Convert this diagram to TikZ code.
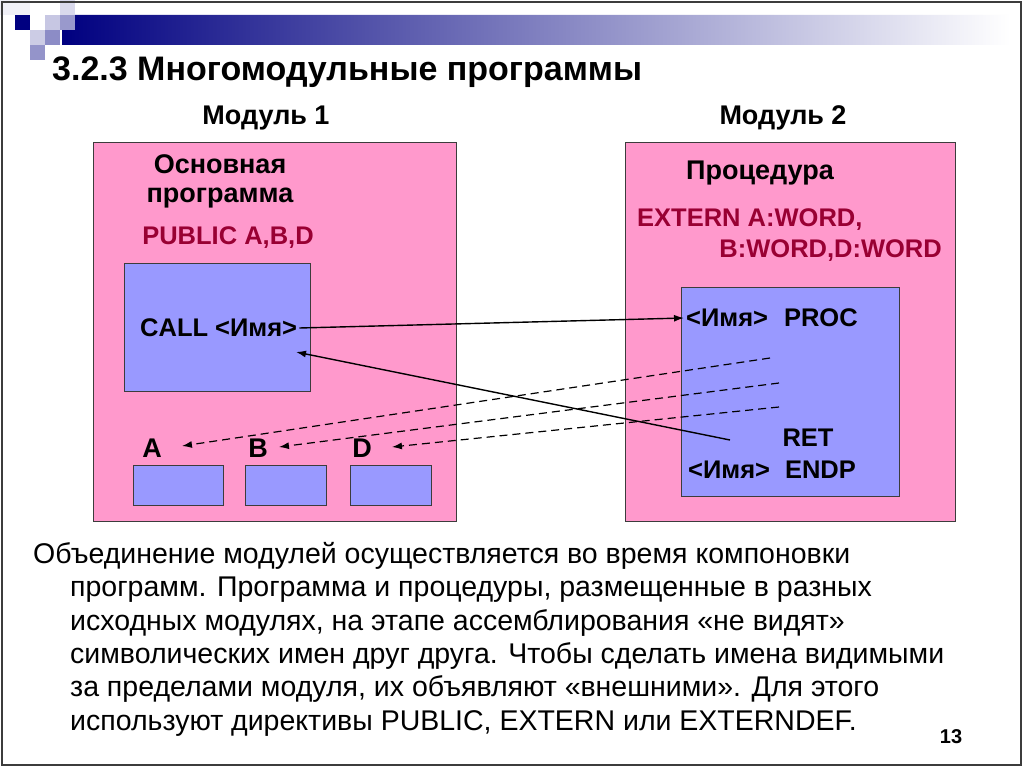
\documentclass[tikz,border=0pt]{standalone}
\usepackage{fontspec}
\setmainfont{Liberation Sans}
\usetikzlibrary{arrows.meta, positioning}
\definecolor{slidenavy}{HTML}{000080}
\definecolor{modulepink}{HTML}{FF99CC}
\definecolor{blockblue}{HTML}{9999FF}
\definecolor{keyred}{HTML}{990033}
\definecolor{framegray}{HTML}{3C3C3C}
\tikzset{
  modulebox/.style={fill=modulepink, draw=framegray, line width=0.9pt},
  codebox/.style={fill=blockblue, draw=framegray, line width=0.9pt},
  labeltext/.style={font=\fontsize{27}{29}\selectfont\bfseries, inner sep=0pt, align=center},
  codetext/.style={labeltext, font=\fontsize{25.5}{25.5}\selectfont\bfseries},
  keytext/.style={codetext, keyred},
  bodyline/.style={font=\fontsize{28.5}{28.5}\selectfont, inner sep=0pt, anchor=base west},
  linkarrow/.style={line width=1.4pt, -{Latex[length=10pt, width=7pt]}},
  externarrow/.style={linkarrow, line width=1.2pt, dash pattern=on 8pt off 5pt}
}

\begin{document}
\begin{tikzpicture}[x=1pt, y=-1pt]
  \useasboundingbox (0,0) rectangle (1024,768);
  \fill[white] (0,0) rectangle (1024,768);

  % slide header decoration
  \shade[left color=slidenavy, right color=white] (62,45) -- (62,30) -- (75,30) -- (75,15) -- (1010,15) -- (1010,45) -- cycle;
  \fill[slidenavy] (15,15) rectangle (30,30);
  \fill[slidenavy!22] (45,15) rectangle (60,30);
  \fill[slidenavy!40] (60,15) rectangle (75,30);
  \fill[slidenavy!15] (60,0) rectangle (75,15);
  \fill[slidenavy!20] (30,30) rectangle (45,45);
  \fill[slidenavy!45] (45,30) rectangle (60,45);
  \fill[slidenavy!42] (30,45) rectangle (45,60);
  \fill[slidenavy!6] (0,0) rectangle (30,15);
  \draw[framegray, line width=1.4pt] (2,2) rectangle (1021,765);

  % title
  \node[font=\fontsize{34}{34}\selectfont\bfseries, inner sep=0pt, anchor=base west] (title) at (52,80) {3.2.3 Многомодульные программы};

  % module 1
  \node[labeltext] (mod1) at (266,118) {Модуль 1};
  \draw[modulebox] (93,142) rectangle (456,521);
  \node[labeltext] (mainprog) at (220,181) {Основная\\программа};
  \node[keytext] (public) at (228,238) {PUBLIC A,B,D};
  \draw[codebox] (124,263) rectangle (310,391);
  \node[codetext, anchor=west, inner sep=2pt] (callname) at (138,328) {CALL <Имя>};
  \coordinate (callret) at (296,352);

  % data words A, B, D
  \node[labeltext] (lblA) at (152,448) {A};
  \node[labeltext] (lblB) at (258,448) {B};
  \node[labeltext] (lblD) at (362,448) {D};
  \draw[codebox] (133,465) rectangle (223,505);
  \draw[codebox] (245,465) rectangle (326,505);
  \draw[codebox] (350,465) rectangle (431,505);

  % module 2
  \node[labeltext] (mod2) at (783,118) {Модуль 2};
  \draw[modulebox] (625,142) rectangle (955,521);
  \node[labeltext] (procname) at (760,173) {Процедура};
  \node[keytext, anchor=west] (extern1) at (637,220) {EXTERN A:WORD,};
  \node[keytext, anchor=east] (extern2) at (942,251) {B:WORD,D:WORD};
  \draw[codebox] (681,287) rectangle (899,496);
  \node[codetext, anchor=west, inner sep=2pt] (procline) at (684,318) {<Имя>\hspace{16pt}PROC};
  \node[codetext] (retline) at (808,438) {RET};
  \node[codetext, anchor=west] (endpline) at (688,470) {<Имя>\hspace{15pt}ENDP};
  \coordinate (extA) at (770,358);
  \coordinate (extB) at (779,383);
  \coordinate (extD) at (779,407);
  \coordinate (retfrom) at (730,440);

  % call and return
  \draw[linkarrow] (callname.east) -- (procline.west);
  \draw[linkarrow] (retfrom) -- (callret);

  % extern references
  \draw[externarrow] (extA) -- ([xshift=20pt, yshift=2pt]lblA.east);
  \draw[externarrow] (extB) -- ([xshift=11pt, yshift=1pt]lblB.east);
  \draw[externarrow] (extD) -- ([xshift=20pt, yshift=1pt]lblD.east);

  % explanation
  \node[bodyline] (line1) at (33,563) {Объединение модулей осуществляется во время компоновки};
  \node[bodyline] (line2) at (70,596) {программ. Программа и процедуры, размещенные в разных};
  \node[bodyline] (line3) at (70,630) {исходных модулях, на этапе ассемблирования «не видят»};
  \node[bodyline] (line4) at (70,663) {символических имен друг друга. Чтобы сделать имена видимыми};
  \node[bodyline] (line5) at (70,696) {за пределами модуля, их объявляют «внешними». Для этого};
  \node[bodyline] (line6) at (70,730) {используют директивы PUBLIC, EXTERN или EXTERNDEF.};

  \node[font=\fontsize{20}{20}\selectfont\bfseries, inner sep=0pt] (pageno) at (951,737) {13};
\end{tikzpicture}
\end{document}
